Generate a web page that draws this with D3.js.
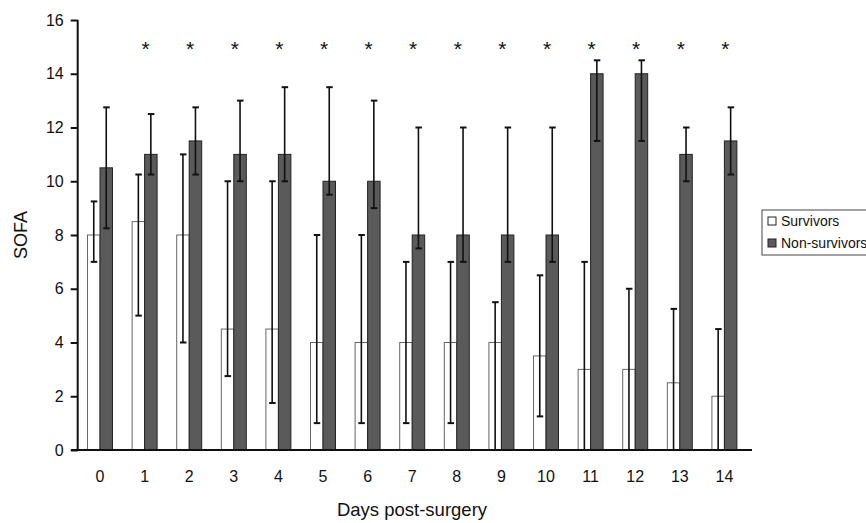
<!DOCTYPE html>
<html>
<head>
  <meta charset="utf-8">
  <title>SOFA by day post-surgery</title>
  <style>
    body { margin: 0; background: #fff; }
    text { font-family: "Liberation Sans", Arial, sans-serif; fill: #111; }
  </style>
</head>
<body>
  <svg width="866" height="523"></svg>
  <script src="https://d3js.org/d3.v7.min.js"></script>
  <script>

  // data (median with lower / upper bounds)
  var days = ["0","1","2","3","4","5","6","7","8","9","10","11","12","13","14"];
  var groups = ["Survivors", "Non-survivors"];

  var survMedian = [8, 8.5, 8, 4.5, 4.5, 4, 4, 4, 4, 4, 3.5, 3, 3, 2.5, 2];
  var survLow    = [7, 5, 4, 2.75, 1.75, 1, 1, 1, 1, 0, 1.25, 0, 0, 0, 0];
  var survHigh   = [9.25, 10.25, 11, 10, 10, 8, 8, 7, 7, 5.5, 6.5, 7, 6, 5.25, 4.5];

  var nonMedian = [10.5, 11, 11.5, 11, 11, 10, 10, 8, 8, 8, 8, 14, 14, 11, 11.5];
  var nonLow    = [8.25, 10.25, 10.25, 10, 10, 9.5, 9, 7.5, 7, 7, 7, 11.5, 11.5, 10, 10.25];
  var nonHigh   = [12.75, 12.5, 12.75, 13, 13.5, 13.5, 13, 12, 12, 12, 12, 14.5, 14.5, 12, 12.75];

  // days with a significant difference
  var starDays = ["1","2","3","4","5","6","7","8","9","10","11","12","13","14"];

  var yTicks = [0, 2, 4, 6, 8, 10, 12, 14, 16];

  // build rows
  var rows = days.map(function(d, i) {
    return {
      day: d,
      values: [
        { group: groups[0], median: survMedian[i], low: survLow[i], high: survHigh[i] },
        { group: groups[1], median: nonMedian[i], low: nonLow[i], high: nonHigh[i] }
      ]
    };
  });

  var svg = d3.select("svg");

  var x = d3.scaleBand()
    .domain(days)
    .range([77.7, 746.7])
    .paddingInner(0.44)
    .paddingOuter(0.22);

  var xSub = d3.scaleBand()
    .domain(groups)
    .range([0, x.bandwidth()]);

  var y = d3.scaleLinear()
    .domain([0, 16])
    .range([450, 20]);

  var color = { "Survivors": "#ffffff", "Non-survivors": "#5a5a5a" };
  var stroke = { "Survivors": "#666", "Non-survivors": "#222" };

  // bars
  var g = svg.selectAll(".day")
    .data(rows)
    .enter()
    .append("g")
    .attr("class", "day")
    .attr("transform", function(d) { return "translate(" + x(d.day) + ",0)"; });

  g.selectAll("rect")
    .data(function(d) { return d.values; })
    .enter()
    .append("rect")
    .attr("x", function(d) { return xSub(d.group); })
    .attr("y", function(d) { return y(d.median); })
    .attr("width", xSub.bandwidth())
    .attr("height", function(d) { return y(0) - y(d.median); })
    .style("fill", function(d) { return color[d.group]; })
    .style("stroke", function(d) { return stroke[d.group]; })
    .style("stroke-width", 1);

  // error bars
  var eb = g.selectAll(".err")
    .data(function(d) { return d.values; })
    .enter()
    .append("g")
    .attr("class", "err")
    .attr("transform", function(d) { return "translate(" + (xSub(d.group) + xSub.bandwidth() / 2) + ",0)"; });

  eb.append("line")
    .attr("x1", 0).attr("x2", 0)
    .attr("y1", function(d) { return y(d.low); })
    .attr("y2", function(d) { return y(d.high); })
    .style("stroke", "#111")
    .style("stroke-width", 1.6);

  eb.append("line")
    .attr("x1", -3).attr("x2", 3.5)
    .attr("y1", function(d) { return y(d.high); })
    .attr("y2", function(d) { return y(d.high); })
    .style("stroke", "#111")
    .style("stroke-width", 2);

  eb.filter(function(d) { return d.low > 0; })
    .append("line")
    .attr("x1", -3).attr("x2", 3.5)
    .attr("y1", function(d) { return y(d.low); })
    .attr("y2", function(d) { return y(d.low); })
    .style("stroke", "#111")
    .style("stroke-width", 2);

  // asterisks
  svg.selectAll(".star")
    .data(starDays)
    .enter()
    .append("text")
    .attr("class", "star")
    .attr("x", function(d) { return x(d) + x.bandwidth() / 2 + 1; })
    .attr("y", 56)
    .attr("text-anchor", "middle")
    .style("font-size", "21px")
    .text("*");

  // axes
  var yAxis = d3.axisLeft(y).tickValues(yTicks).tickSize(7).tickPadding(7);
  var gy = svg.append("g")
    .attr("transform", "translate(77.7,0)")
    .call(yAxis);
  gy.select(".domain").attr("d", "M0," + y(16) + "V" + y(0)).style("stroke", "#111").style("stroke-width", 2);
  gy.selectAll(".tick line").style("stroke", "#111").style("stroke-width", 2);
  gy.selectAll(".tick text")
    .style("font-size", "16px")
    .style("font-family", "Liberation Sans, Arial, sans-serif")
    .style("fill", "#111");

  var xAxis = d3.axisBottom(x).tickSize(0).tickPadding(21);
  var gx = svg.append("g")
    .attr("transform", "translate(0," + y(0) + ")")
    .call(xAxis);
  gx.select(".domain").attr("d", "M71,0H752").style("stroke", "#111").style("stroke-width", 2);
  gx.selectAll(".tick text")
    .style("font-size", "16px")
    .style("font-family", "Liberation Sans, Arial, sans-serif")
    .style("fill", "#111");

  // axis titles
  svg.append("text")
    .attr("transform", "translate(27,235) rotate(-90)")
    .attr("text-anchor", "middle")
    .style("font-size", "18px")
    .text("SOFA");

  svg.append("text")
    .attr("x", 412)
    .attr("y", 516)
    .attr("text-anchor", "middle")
    .style("font-size", "18.5px")
    .text("Days post-surgery");

  // legend
  var legend = svg.append("g").attr("transform", "translate(762,210)");
  legend.append("rect")
    .attr("width", 120)
    .attr("height", 45)
    .style("fill", "#fff")
    .style("stroke", "#444")
    .style("stroke-width", 1);

  var li = legend.selectAll(".li")
    .data(groups)
    .enter()
    .append("g")
    .attr("class", "li")
    .attr("transform", function(d, i) { return "translate(6," + (7 + i * 22) + ")"; });

  li.append("rect")
    .attr("width", 8)
    .attr("height", 8)
    .style("fill", function(d) { return color[d]; })
    .style("stroke", "#222")
    .style("stroke-width", 1);

  li.append("text")
    .attr("x", 13)
    .attr("y", 9)
    .style("font-size", "14px")
    .text(function(d) { return d; });

  </script>
</body>
</html>
